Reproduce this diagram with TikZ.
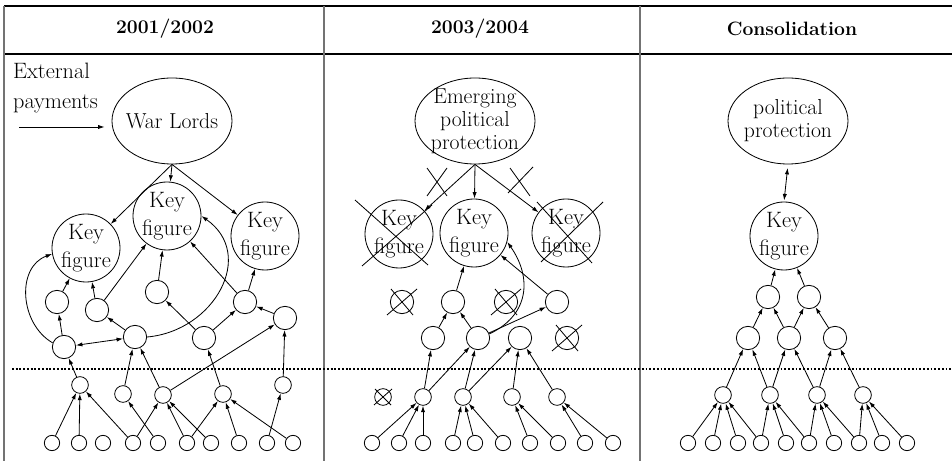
\documentclass[tikz,border=0pt]{standalone}
\usetikzlibrary{arrows.meta,shapes.geometric}
\tikzset{
  link/.style={-{Latex[length=5.5pt,width=3.6pt]},line width=0.7pt},
  twoway/.style={{Latex[length=5.5pt,width=3.6pt]}-{Latex[length=5.5pt,width=3.6pt]},line width=0.7pt},
  bignode/.style={circle,draw,line width=0.7pt,minimum size=2.04cm,inner sep=-4pt,align=center,font=\fontsize{19}{24}\selectfont},
  midnode/.style={circle,draw,line width=0.7pt,minimum size=0.7cm,inner sep=0pt},
  smallnode/.style={circle,draw,line width=0.7pt,minimum size=0.5cm,inner sep=0pt},
  leafnode/.style={circle,draw,line width=0.7pt,minimum size=0.46cm,inner sep=0pt},
  oval/.style={ellipse,draw,line width=0.7pt,minimum width=3.6cm,minimum height=2.58cm,inner sep=0pt},
  ovaltext/.style={align=center,font=\fontsize{18.5}{19.5}\selectfont},
  head/.style={font=\bfseries\fontsize{16.5}{18}\selectfont},
  rule/.style={line width=1.2pt},
  colrule/.style={line width=1.1pt,black!55},
  strike/.style={line width=0.7pt},
}
\begin{document}
\begin{tikzpicture}[x=0.03cm,y=-0.03cm]
  \useasboundingbox (0,0) rectangle (952,461);
  % table frame
  \draw[rule] (4,6) -- (952,6);
  \draw[rule] (4,54) -- (952,54);
  \foreach \x in {4,324,640}
    \draw[colrule] (\x,6) -- (\x,461);
  \node[head] (h1) at (165,29) {2001/2002};
  \node[head] (h2) at (480,29) {2003/2004};
  \node[head] (h3) at (792,29) {Consolidation};
  \draw[line width=1.6pt,dash pattern=on 1.6pt off 1.6pt] (12,369) -- (952,369);

  % --- 2001/2002
  \node[oval,label={[ovaltext]center:War Lords}] (aWL) at (172,121) {};
  \node[anchor=west,align=left,font=\fontsize{19}{25}\selectfont] (pay) at (9,88) {External\\payments};
  \coordinate (payin) at (19,127);
  \draw[link,shorten >=6pt] (payin) -- (payin -| aWL.west);
  \node[bignode] (aK1) at (86,248) {Key\\figure};
  \node[bignode] (aK2) at (167,216) {Key\\figure};
  \node[bignode] (aK3) at (265,236) {Key\\figure};
  \node[midnode] (aM1) at (57,302) {};
  \node[midnode] (aM2) at (97,310) {};
  \node[midnode] (aM3) at (157,292) {};
  \node[midnode] (aM4) at (245,302) {};
  \node[midnode] (aM5) at (285,318) {};
  \node[midnode] (aM6) at (64,347) {};
  \node[midnode] (aM7) at (135,337) {};
  \node[midnode] (aM8) at (204,338) {};
  \node[smallnode] (aS1) at (80,385) {};
  \node[smallnode] (aS2) at (123,394) {};
  \node[smallnode] (aS3) at (163,395) {};
  \node[smallnode] (aS4) at (223,394) {};
  \node[smallnode] (aS5) at (283,385) {};
  \foreach \x [count=\i] in {52,79,103,133,158,187,211,239,267,293}
    \node[leafnode] (aB\i) at (\x,443) {};
  \foreach \t in {aK1,aK2,aK3}
    \draw[link] (aWL.south) -- (\t);
  \foreach \f/\t in {aB1/aS1,aB2/aS1,aB4/aS1,aB4/aS3,aB5/aS2,aB6/aS3,aB7/aS3,
      aB6/aS4,aB8/aS4,aB10/aS4,aB9/aS5,
      aS1/aM6,aS2/aM7,aS3/aM7,aS3/aM5,aS4/aM8,aS5/aM5,
      aM6/aM1,aM7/aM2,aM1/aK1,aM2/aK1,aM2/aK2,aM3/aK2,aM8/aM3,aM8/aM4,
      aM5/aM4,aM4/aK2,aM4/aK3}
    \draw[link] (\f) -- (\t);
  \draw[twoway] (aM6) -- (aM7);
  \draw[link] (aM6.160) to[out=150,in=200,looseness=1.1] (aK1.190);
  \draw[link] (aM7.east) to[out=5,in=-35,looseness=1.3] (aK2.east);

  % --- 2003/2004
  \node[oval,label={[ovaltext]center:Emerging\\political\\protection}] (bEP) at (475,121) {};
  \node[bignode] (bK1) at (399,234) {Key\\figure};
  \node[bignode] (bK2) at (474,233) {Key\\figure};
  \node[bignode] (bK3) at (566,233) {Key\\figure};
  \node[midnode] (bX1) at (402,302) {};
  \node[midnode] (bM1) at (453,302) {};
  \node[midnode] (bX2) at (506,302) {};
  \node[midnode] (bM2) at (557,302) {};
  \node[midnode] (bM3) at (433,338) {};
  \node[midnode] (bM4) at (478,338) {};
  \node[midnode] (bM5) at (520,338) {};
  \node[midnode] (bX3) at (567,338) {};
  \node[smallnode] (bX4) at (383,397) {};
  \node[smallnode] (bS1) at (423,397) {};
  \node[smallnode] (bS2) at (463,397) {};
  \node[smallnode] (bS3) at (512,397) {};
  \node[smallnode] (bS4) at (557,397) {};
  \foreach \x [count=\i] in {372,399,423,453,475,503,530,558,585,613}
    \node[leafnode] (bB\i) at (\x,443) {};
  \foreach \t in {bK1,bK2,bK3}
    \draw[link] (bEP.south) -- (\t);
  \foreach \f/\t in {bB1/bS1,bB2/bS1,bB3/bS1,bB4/bS2,bB5/bS2,bB6/bS2,
      bB7/bS3,bB8/bS3,bB9/bS4,bB10/bS4,
      bS1/bM3,bS1/bM4,bS2/bM4,bS2/bM5,bS3/bM5,bS4/bM5,
      bM3/bM1,bM4/bM1,bM4/bM2,bM1/bK2,bM2/bK2}
    \draw[link] (\f) -- (\t);
  \draw[link] (bM4.20) to[out=25,in=-55,looseness=1.2] (bK2.-15);
  % crossed out
  \draw[strike] (427,168) -- (447,196) (447,168) -- (427,196);
  \draw[strike] (510,168) -- (530,196) (533,167) -- (508,193);
  \draw[strike] (355,200) -- (428,265) (432,205) -- (362,266);
  \draw[strike] (537,202) -- (592,263) (603,202) -- (541,262);
  \foreach \n in {bX1,bX2,bX3}
    \draw[strike] ([shift={(-15,13)}]\n.center) -- ([shift={(15,-13)}]\n.center)
                  ([shift={(-11,-13)}]\n.center) -- ([shift={(11,13)}]\n.center);
  \draw[strike] ([shift={(-9,8)}]bX4.center) -- ([shift={(9,-8)}]bX4.center)
                ([shift={(-8,-8)}]bX4.center) -- ([shift={(8,8)}]bX4.center);

  % --- Consolidation
  \node[oval,label={[ovaltext]center:political\\protection}] (cPP) at (788,121) {};
  \node[bignode] (cK) at (784,236) {Key\\figure};
  \node[midnode] (cM1) at (768,297) {};
  \node[midnode] (cM2) at (809,297) {};
  \node[midnode] (cM3) at (748,338) {};
  \node[midnode] (cM4) at (789,338) {};
  \node[midnode] (cM5) at (835,338) {};
  \node[smallnode] (cS1) at (723,395) {};
  \node[smallnode] (cS2) at (770,395) {};
  \node[smallnode] (cS3) at (817,395) {};
  \node[smallnode] (cS4) at (863,395) {};
  \foreach \x [count=\i] in {688,713,738,761,786,809,834,859,882,907}
    \node[leafnode] (cB\i) at (\x,443) {};
  \draw[twoway,shorten <=3pt,shorten >=1pt] (cPP.south) -- (cK.north);
  \foreach \f/\t in {cB1/cS1,cB2/cS1,cB3/cS1,cB4/cS1,cB4/cS2,cB5/cS2,cB6/cS2,
      cB6/cS3,cB7/cS3,cB8/cS3,cB8/cS4,cB9/cS4,cB10/cS4,
      cS1/cM3,cS2/cM3,cS2/cM4,cS3/cM4,cS3/cM5,cS4/cM5,
      cM3/cM1,cM4/cM1,cM4/cM2,cM5/cM2,cM1/cK,cM2/cK}
    \draw[link] (\f) -- (\t);
\end{tikzpicture}
\end{document}
